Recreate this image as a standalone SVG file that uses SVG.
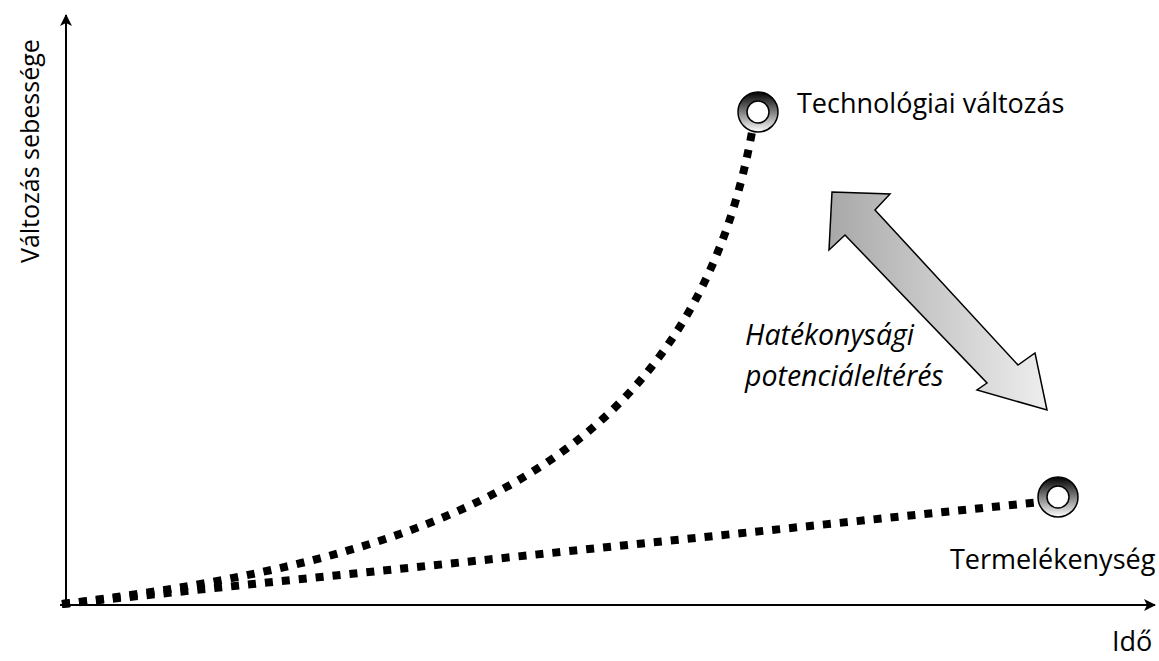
<svg xmlns="http://www.w3.org/2000/svg" width="1159" height="661" viewBox="0 0 1159 661">
<style>
.t{font-family:"Open Sans","Liberation Sans",sans-serif;font-size:27px;fill:#000}
.i{font-style:italic;font-size:28.5px}
.v{font-size:25px}
.ax{stroke:#000;stroke-width:2;fill:none}
.dash{stroke:#000;stroke-width:8;fill:none;stroke-dasharray:8 9}
</style>
<defs>
<marker id="ah" viewBox="0 0 12 12" refX="11" refY="6" markerWidth="12" markerHeight="12" markerUnits="userSpaceOnUse" orient="auto"><path d="M0,0 L12,6 L0,12 L3,6 Z" fill="#000"/></marker>
<linearGradient id="ring" x1="0" y1="0" x2="0" y2="1"><stop offset="0" stop-color="#000"/><stop offset="1" stop-color="#fff"/></linearGradient>
<linearGradient id="arr" x1="0" y1="0" x2="1" y2="0"><stop offset="0" stop-color="#a8a8a8"/><stop offset="1" stop-color="#eeeeee"/></linearGradient>
</defs>
<g id="connectors">
<path class="dash" d="M62,604 C430,560 690,470 752,132"/>
<path class="dash" d="M62,604 L1040,502"/>
</g>
<g id="axes">
<line class="ax" x1="66" y1="606" x2="66" y2="15" marker-end="url(#ah)"/>
<line class="ax" x1="60" y1="605" x2="1155" y2="605" marker-end="url(#ah)"/>
</g>
<g id="node-tech">
<circle cx="758" cy="112" r="20" fill="url(#ring)" stroke="#000" stroke-width="1.5"/>
<circle cx="758" cy="112" r="11" fill="#fff" stroke="#000" stroke-width="1.5"/>
<text class="t" x="797" y="113">Technológiai változás</text>
</g>
<g id="node-prod">
<circle cx="1058" cy="497" r="20" fill="url(#ring)" stroke="#000" stroke-width="1.5"/>
<circle cx="1058" cy="497" r="11" fill="#fff" stroke="#000" stroke-width="1.5"/>
<text class="t" x="950" y="569">Termelékenység</text>
</g>
<g id="gap-arrow">
<polygon points="832,192 890,194 875,210 1018,365 1035,353 1047,410 977,390 987,383 845,235 829,250" fill="url(#arr)" stroke="#000" stroke-width="1.5" stroke-linejoin="miter"/>
<text class="t i" x="745" y="345">Hatékonysági</text>
<text class="t i" x="745" y="386">potenciáleltérés</text>
</g>
<g id="labels">
<text class="t" x="1112" y="651">Idő</text>
<text class="t v" transform="translate(39,263) rotate(-90)">Változás sebessége</text>
</g>
</svg>
